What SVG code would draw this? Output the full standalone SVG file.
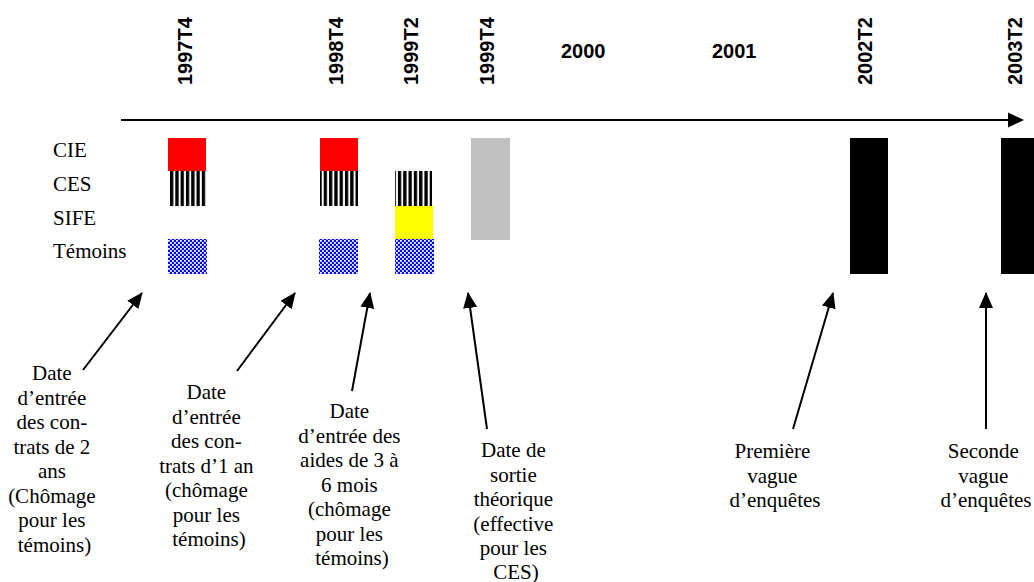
<svg xmlns="http://www.w3.org/2000/svg" width="1034" height="582" viewBox="0 0 1034 582">
  <style>
    .yr { font-family: "Liberation Sans", Arial, sans-serif; font-weight: bold; font-size: 20px; fill: #000; }
    .lbl { font-family: "Liberation Serif", "Times New Roman", serif; font-size: 21px; fill: #000; }
    .note { font-family: "Liberation Serif", "Times New Roman", serif; font-size: 21px; fill: #000; text-anchor: middle; }
    .conn { stroke: #000; stroke-width: 2; fill: none; marker-end: url(#ah); }
  </style>
  <defs>
    <marker id="ah" markerUnits="userSpaceOnUse" markerWidth="16" markerHeight="14" refX="15" refY="7" orient="auto">
      <path d="M0,0 L16,7 L0,14 z" fill="#000"/>
    </marker>
    <pattern id="stripes" patternUnits="userSpaceOnUse" x="170" y="0" width="5.3" height="10">
      <rect x="0" y="0" width="5.3" height="10" fill="#fff"/>
      <rect x="0" y="0" width="3.3" height="10" fill="#000"/>
    </pattern>
    <pattern id="checker" patternUnits="userSpaceOnUse" x="0" y="0" width="4" height="4">
      <rect x="0" y="0" width="4" height="4" fill="#0000ff"/>
      <rect x="0" y="0" width="1.8" height="1.8" fill="#fff"/>
      <rect x="2" y="2" width="1.8" height="1.8" fill="#fff"/>
    </pattern>
  </defs>
  <rect x="0" y="0" width="1034" height="582" fill="#fff"/>

  <g id="axis">
    <line x1="121" y1="120" x2="1010" y2="120" stroke="#000" stroke-width="2"/>
    <polygon points="1008,112.5 1024,120 1008,127.5" fill="#000"/>
  </g>

  <g id="period-labels">
    <text class="yr" transform="translate(192,85) rotate(-90)">1997T4</text>
    <text class="yr" transform="translate(343,85) rotate(-90)">1998T4</text>
    <text class="yr" transform="translate(418,85) rotate(-90)">1999T2</text>
    <text class="yr" transform="translate(494,85) rotate(-90)">1999T4</text>
    <text class="yr" x="561" y="58">2000</text>
    <text class="yr" x="712" y="58">2001</text>
    <text class="yr" transform="translate(872,85) rotate(-90)">2002T2</text>
    <text class="yr" transform="translate(1022,85) rotate(-90)">2003T2</text>
  </g>

  <g id="row-labels">
    <text class="lbl" x="53" y="157">CIE</text>
    <text class="lbl" x="53" y="191">CES</text>
    <text class="lbl" x="53" y="225">SIFE</text>
    <text class="lbl" x="53" y="258">Témoins</text>
  </g>

  <g id="bars-1997T4">
    <rect x="168" y="138" width="38" height="33" fill="#ff0000"/>
    <rect x="170" y="171" width="37" height="35" fill="url(#stripes)"/>
    <rect x="168" y="239" width="39" height="35" fill="url(#checker)"/>
  </g>
  <g id="bars-1998T4">
    <rect x="320" y="138" width="38" height="33" fill="#ff0000"/>
    <rect x="320" y="171" width="38" height="35" fill="url(#stripes)"/>
    <rect x="319" y="239" width="39" height="35" fill="url(#checker)"/>
  </g>
  <g id="bars-1999T2">
    <rect x="395" y="171" width="37" height="35" fill="url(#stripes)"/>
    <rect x="395" y="206" width="38" height="33" fill="#ffff00"/>
    <rect x="395" y="239" width="39" height="35" fill="url(#checker)"/>
  </g>
  <g id="bar-1999T4">
    <rect x="471" y="138" width="39" height="102" fill="#c0c0c0"/>
  </g>
  <g id="bar-2002T2">
    <rect x="850" y="138" width="38" height="136" fill="#000"/>
  </g>
  <g id="bar-2003T2">
    <rect x="1001" y="138" width="33" height="136" fill="#000"/>
  </g>

  <g id="connectors">
    <line class="conn" x1="83" y1="370" x2="142" y2="293"/>
    <line class="conn" x1="237" y1="371" x2="295" y2="293"/>
    <line class="conn" x1="352" y1="391" x2="370" y2="293"/>
    <line class="conn" x1="487" y1="429" x2="468" y2="293"/>
    <line class="conn" x1="793" y1="429" x2="833" y2="293"/>
    <line class="conn" x1="986" y1="429" x2="986" y2="293"/>
  </g>

  <g id="note-1">
    <text class="note" x="54.5" y="380">
      <tspan x="54.5" y="380">Date</tspan>
      <tspan x="54.5" y="404.5">d’entrée</tspan>
      <tspan x="54.5" y="429">des con-</tspan>
      <tspan x="54.5" y="453.5">trats de 2</tspan>
      <tspan x="54.5" y="478">ans</tspan>
      <tspan x="54.5" y="502.5">(Chômage</tspan>
      <tspan x="54.5" y="527">pour les</tspan>
      <tspan x="54.5" y="551.5">témoins)</tspan>
    </text>
  </g>
  <g id="note-2">
    <text class="note" x="209" y="399">
      <tspan x="209" y="399">Date</tspan>
      <tspan x="209" y="423.5">d’entrée</tspan>
      <tspan x="209" y="448">des con-</tspan>
      <tspan x="209" y="472.5">trats d’1 an</tspan>
      <tspan x="209" y="497">(chômage</tspan>
      <tspan x="209" y="521.5">pour les</tspan>
      <tspan x="209" y="546">témoins)</tspan>
    </text>
  </g>
  <g id="note-3">
    <text class="note" x="352" y="418">
      <tspan x="352" y="418">Date</tspan>
      <tspan x="352" y="442.5">d’entrée des</tspan>
      <tspan x="352" y="467">aides de 3 à</tspan>
      <tspan x="352" y="491.5">6 mois</tspan>
      <tspan x="352" y="516">(chômage</tspan>
      <tspan x="352" y="540.5">pour les</tspan>
      <tspan x="352" y="565">témoins)</tspan>
    </text>
  </g>
  <g id="note-4">
    <text class="note" x="516" y="457">
      <tspan x="516" y="457">Date de</tspan>
      <tspan x="516" y="481.5">sortie</tspan>
      <tspan x="516" y="506">théorique</tspan>
      <tspan x="516" y="530.5">(effective</tspan>
      <tspan x="516" y="555">pour les</tspan>
      <tspan x="516" y="579">CES)</tspan>
    </text>
  </g>
  <g id="note-5">
    <text class="note" x="775" y="458">
      <tspan x="775" y="458">Première</tspan>
      <tspan x="775" y="482.5">vague</tspan>
      <tspan x="775" y="507">d’enquêtes</tspan>
    </text>
  </g>
  <g id="note-6">
    <text class="note" x="986" y="458">
      <tspan x="986" y="458">Seconde</tspan>
      <tspan x="986" y="482.5">vague</tspan>
      <tspan x="986" y="507">d’enquêtes</tspan>
    </text>
  </g>
</svg>
